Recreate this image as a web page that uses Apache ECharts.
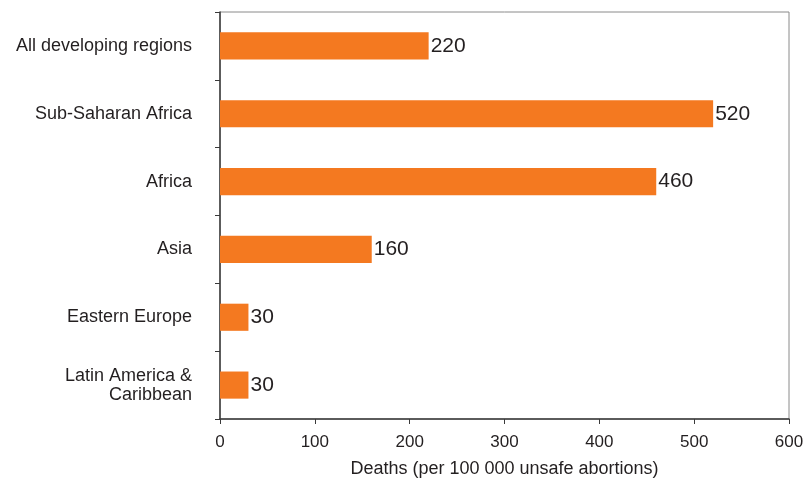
<!DOCTYPE html>
<html>
<head>
<meta charset="utf-8">
<script src="https://cdn.jsdelivr.net/npm/echarts@6/dist/echarts.min.js"></script>
<style>html,body{margin:0;padding:0;background:#fff}#c{width:810px;height:483px}</style>
</head>
<body>
<div id="c"></div>
<script>
const categories = ["All developing regions", "Sub-Saharan Africa", "Africa", "Asia", "Eastern Europe", "Latin America &\nCaribbean"];
const deaths = [220, 520, 460, 160, 30, 30];
const xTicks = [0, 100, 200, 300, 400, 500, 600];

const chart = echarts.init(document.getElementById('c'));
chart.setOption({
  animation: false,
  grid: {left: 220, right: 21, top: 12, bottom: 62, show: true, borderColor: '#8a8a8a', borderWidth: 1},
  xAxis: {
    type: 'value', min: xTicks[0], max: xTicks[xTicks.length - 1], interval: 100,
    name: 'Deaths (per 100 000 unsafe abortions)', nameLocation: 'middle', nameGap: 41,
    nameTextStyle: {fontFamily: 'Liberation Sans', fontSize: 18, color: '#231f20'},
    axisLine: {show: true, lineStyle: {color: '#3a3a3a', width: 1.5}},
    axisTick: {show: true, length: 5, lineStyle: {color: '#3a3a3a'}},
    axisLabel: {fontFamily: 'Liberation Sans', fontSize: 17, color: '#231f20', margin: 15},
    splitLine: {show: false}
  },
  yAxis: {
    type: 'category', data: categories, inverse: true,
    axisLine: {show: true, lineStyle: {color: '#3a3a3a', width: 1.5}},
    axisTick: {show: true, length: 5, lineStyle: {color: '#3a3a3a'}},
    axisLabel: {fontFamily: 'Liberation Sans', fontSize: 18, color: '#231f20', margin: 28, lineHeight: 19, align: 'right'}
  },
  series: [{
    type: 'bar', data: deaths, barWidth: '40%',
    itemStyle: {color: '#f47920'},
    label: {show: true, position: 'right', distance: 2, fontFamily: 'Liberation Sans', fontSize: 21, color: '#231f20'}
  }]
});
</script>
</body>
</html>
